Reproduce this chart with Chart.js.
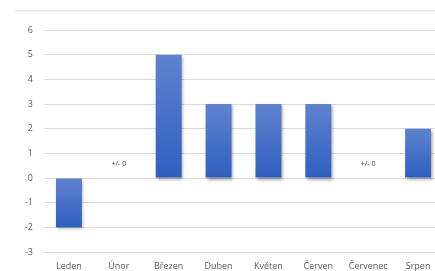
<!DOCTYPE html>
<html>
<head>
<meta charset="utf-8">
<script src="https://cdn.jsdelivr.net/npm/chart.js@4"></script>
<style>
html,body{margin:0;padding:0;background:#fff;overflow:hidden;width:435px;height:271px;}
#wrap{position:relative;width:445px;height:271px;}
#topline{position:absolute;left:15px;top:10px;width:430px;height:2px;background:#ebebeb;}
canvas{display:block;}
</style>
</head>
<body>
<div id="wrap">
<div id="topline"></div>
<canvas id="c" width="445" height="271" style="width:445px;height:271px"></canvas>
</div>
<script>
const categories = ["Leden","Únor","Březen","Duben","Květen","Červen","Červenec","Srpen"];
const values = [-2, 0, 5, 3, 3, 3, 0, 2];
const zeroLabel = "+/- 0";
const yMin = -3, yMax = 6, yStep = 1;

const FONT = "'Open Sans', 'Noto Sans', sans-serif";

function barFill(ctx) {
  const chart = ctx.chart;
  const y = chart.scales && chart.scales.y;
  if (!y || ctx.dataIndex === undefined) return '#4472c4';
  const v = values[ctx.dataIndex];
  const top = y.getPixelForValue(Math.max(v, 0));
  const bot = y.getPixelForValue(Math.min(v, 0));
  if (!isFinite(top) || !isFinite(bot) || top === bot) return '#4472c4';
  const g = chart.ctx.createLinearGradient(0, top, 0, bot);
  g.addColorStop(0, '#5f82cf');
  g.addColorStop(1, '#2e5fbf');
  return g;
}

const shadowPlugin = {
  id: 'shadow',
  beforeDatasetsDraw(chart) {
    const c = chart.ctx;
    c.save();
    c.shadowColor = 'rgba(0,0,0,0.35)';
    c.shadowBlur = 3;
    c.shadowOffsetX = 1.5;
    c.shadowOffsetY = 2;
  },
  afterDatasetsDraw(chart) {
    chart.ctx.restore();
  }
};

const zeroLabelPlugin = {
  id: 'zeroLabels',
  afterDatasetsDraw(chart) {
    const c = chart.ctx;
    const meta = chart.getDatasetMeta(0);
    const y = chart.scales.y;
    c.save();
    c.font = "7px " + FONT;
    c.fillStyle = '#404040';
    c.textAlign = 'center';
    c.textBaseline = 'middle';
    values.forEach((v, i) => {
      if (v === 0) {
        const x = meta.data[i].x;
        c.fillText(zeroLabel, x, y.getPixelForValue(0) - 14);
      }
    });
    c.restore();
  }
};

new Chart(document.getElementById('c'), {
  type: 'bar',
  data: {
    labels: categories,
    datasets: [{
      data: values,
      backgroundColor: barFill,
      borderWidth: 0,
      categoryPercentage: 1,
      barPercentage: 0.52
    }]
  },
  options: {
    responsive: false,
    animation: false,
    devicePixelRatio: 1,
    layout: { padding: { top: 30, right: 2, bottom: 0, left: 0 } },
    plugins: { legend: { display: false }, tooltip: { enabled: false } },
    scales: {
      x: {
        grid: { display: false, drawTicks: false },
        border: { display: false },
        ticks: { color: '#595959', font: { family: FONT, size: 9 }, padding: 9, maxRotation: 0, autoSkip: false },
        afterFit(s) { s.height = 19; }
      },
      y: {
        min: yMin, max: yMax,
        grid: { color: '#d9d9d9', lineWidth: 1, drawTicks: false },
        border: { display: false },
        ticks: { stepSize: yStep, color: '#595959', font: { family: FONT, size: 9 }, padding: 11 },
        afterFit(s) { s.width = 44; }
      }
    }
  },
  plugins: [shadowPlugin, zeroLabelPlugin]
});
</script>
</body>
</html>
